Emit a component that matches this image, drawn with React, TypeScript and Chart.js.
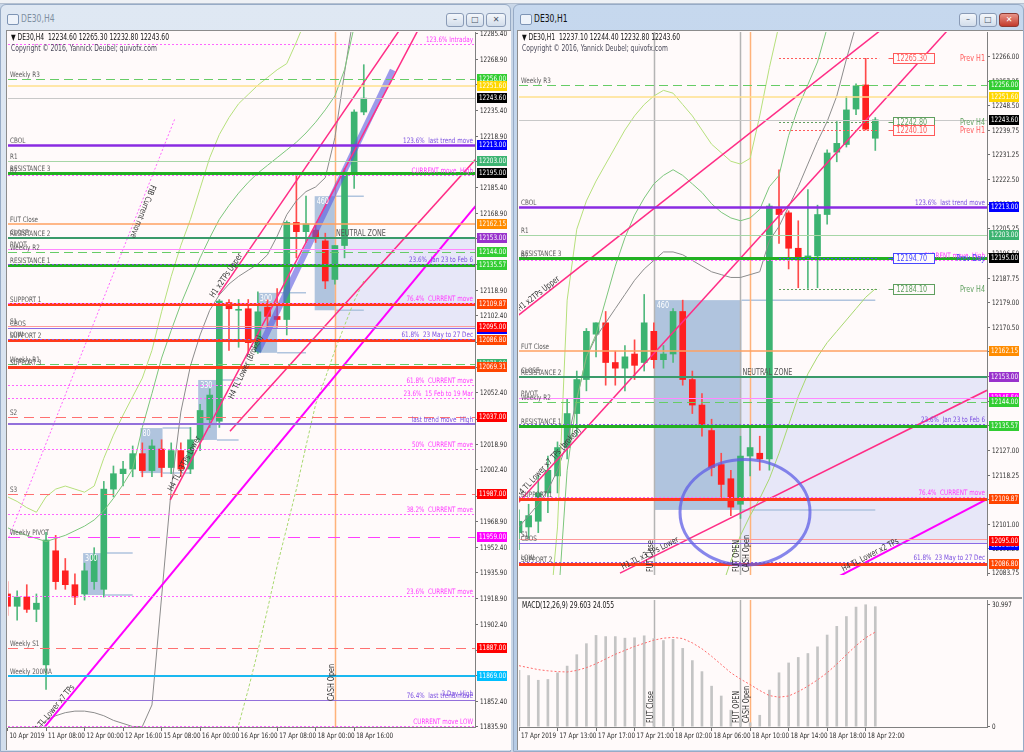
import React, { useEffect, useRef } from "react";
import { Chart, registerables } from "chart.js";

Chart.register(...registerables);

const FONT = "'Liberation Sans Narrow','DejaVu Sans Condensed','Liberation Sans',Arial,sans-serif";
Chart.defaults.font.family = FONT;
const SQ = 0.84; // horizontal squeeze for the narrow MT4 font look

// ================= DE30,H4 (left) =================
const h4AxisLabels = ["10 Apr 2019", "11 Apr 08:00", "12 Apr 00:00", "12 Apr 16:00", "15 Apr 08:00", "16 Apr 00:00", "16 Apr 16:00", "17 Apr 08:00", "18 Apr 00:00", "18 Apr 16:00"];
const h4PriceTicks = ["12285.40", "12268.90", "12252.40", "12235.40", "12218.90", "12202.40", "12185.40", "12168.90", "12152.40", "12135.40", "12118.90", "12102.40", "12085.40", "12068.90", "12052.40", "12035.40", "12018.90", "12002.40", "11985.40", "11968.90", "11952.40", "11935.90", "11918.90", "11902.40", "11885.40", "11868.90", "11852.40", "11835.90"];
const h4Open = [11922, 11914, 11920, 11912, 11876, 11950, 11937, 11928, 11922, 11930, 11925, 11990, 12000, 12003, 12013, 12002, 12016, 12004, 12015, 12003, 12022, 12035, 12034, 12111, 12106, 12107, 12079, 12108, 12102, 12100, 12163, 12157, 12158, 12151, 12126, 12148, 12195, 12234.6];
const h4High = [11930, 11924, 11928, 11922, 11962, 11960, 11945, 11935, 11942, 11952, 11995, 12005, 12008, 12018, 12020, 12022, 12022, 12020, 12020, 12030, 12045, 12055, 12113, 12113, 12113, 12113, 12118, 12113, 12120, 12164, 12195, 12180, 12162, 12156, 12148, 12198, 12236, 12265.3];
const h4Low = [11908, 11905, 11910, 11904, 11860, 11925, 11925, 11915, 11918, 11925, 11920, 11985, 11992, 11998, 11998, 11998, 11998, 12000, 11998, 12000, 12015, 12030, 12030, 12080, 12082, 12078, 12078, 12095, 12095, 12090, 12140, 12150, 12150, 12120, 12123, 12140, 12185, 12232.8];
const h4Close = [11914, 11920, 11912, 11916, 11957, 11930, 11928, 11920, 11937, 11947, 11990, 12000, 12003, 12013, 12002, 12018, 12004, 12015, 12003, 12022, 12041, 12051, 12112, 12107, 12106, 12085, 12105, 12102, 12100, 12163, 12157, 12162, 12153, 12125, 12148, 12195, 12234.6, 12243.6];
const h4Upper = [11985, 11982, 11978, 11975, 11985, 11990, 11992, 11990, 11988, 11992, 12010, 12025, 12038, 12050, 12062, 12080, 12105, 12128, 12148, 12165, 12185, 12205, 12220, 12231, 12240, 12246, 12252, 12257, 12262, 12266, 12280, 12295, null, null, null, null, null, null];
const h4Band2 = [11965, 11962, 11960, 11958, 11956, 11958, 11960, 11963, 11966, 11970, 11976, 11984, 11993, 12003, 12030, 12052, 12075, 12093, 12110, 12125, 12140, 12153, 12165, 12174, 12182, 12189, 12195, 12200, 12205, 12210, 12215, 12221, 12228, 12236, 12245, 12262, 12290, null];
const h4Ma = [null, null, null, 11834, 11840, 11843, 11845, 11846, 11846, 11845, 11843, 11840, 11838, 11836, 11836, 11850, 11920, 11990, 12040, 12070, 12090, 12106, 12116, 12123, 12128, 12132, 12136, 12142, 12154, 12168, 12177, 12183, 12186, 12192, 12218, 12260, 12300, null];
const h4Lower = [null, null, null, null, null, null, null, null, null, null, null, null, null, null, null, null, null, null, null, null, null, null, 11790, 11810, 11837, 11860, 11885, 11912, 11940, 11965, 11990, 12018, 12045, 12062, 12080, 12096, 12112, 12125];

const h4LevelValues = [12278.5, 12256, 12251.6, 12243.6, 12213, 12203, 12195, 12194, 12162.15, 12153, 12153.7, 12145.5, 12144, 12135.57, 12136.3, 12109.87, 12110.6, 12095.6, 12094.4, 12086.8, 12087.5, 12071, 12069.31, 12057.4, 12049.2, 12037, 12032.5, 12016, 11987, 11974, 11959, 11920.7, 11887, 11869, 11853.4, 11854.5, 11836.5];
const h4LevelStyles = ["fibM", "wk", "gold", "bid", "cbol", "r1", "res", "fibM", "fut", "res2", "none", "pivot", "wk", "res", "fibP", "sup", "fibM", "s1", "cbos", "sup", "fibP", "wk", "sup", "fibM", "fibM", "sDash", "trendHigh", "fibM", "sDash", "fibM", "wPivot", "fibM", "sDash", "ma200", "p1", "none", "fibM"];
const h4LevelLeft = ["", "Weekly R3", "", "", "CBOL", "R1", "RESISTANCE 3", "R2", "FUT Close", "RESISTANCE 2", "CLOSE", "PIVOT", "Weekly R2", "RESISTANCE 1", "", "SUPPORT 1", "", "S1", "CBOS", "SUPPORT 2", "LOW", "Weekly R1", "SUPPORT 3", "", "", "S2", "", "", "S3", "", "Weekly PIVOT", "", "Weekly S1", "Weekly 200MA", "", "", ""];
const h4LevelRight = ["123.6% Intraday", "", "", "", "123.6%  last trend move", "", "", "CURRENT move  High", "", "", "", "", "", "", "23.6%  Jan 23 to Feb 6", "", "76.4%  CURRENT move", "", "", "", "61.8%  23 May to 27 Dec", "", "", "61.8%  CURRENT move", "23.6%  15 Feb to 19 Mar", "", "last trend move  High", "50%  CURRENT move", "", "38.2%  CURRENT move", "", "23.6%  CURRENT move", "", "", "76.4%  last trend move", "3 Day High", "CURRENT move LOW"];
const h4AxisBoxValues = [12256, 12251.6, 12243.6, 12213, 12203, 12195, 12162.15, 12153, 12144, 12135.57, 12109.87, 12093.6, 12095, 12086.8, 12071, 12069.31, 12037, 11987, 11959, 11887, 11869];
const h4AxisBoxColors = ["#32cd32", "#ffd700", "#000000", "#0000ff", "#3cb371", "#000000", "#ff8c00", "#9932cc", "#32cd32", "#32cd32", "#ff4500", "#0000ff", "#ff0000", "#ff4500", "#3cb371", "#ff4500", "#ff0000", "#ff0000", "#ff00ff", "#ff0000", "#00bfff"];

const h4BoxLeft = [34, 31.9, 26, 19.8, 13.8, 7.85];
const h4BoxRight = [60, 34, 28, 21.75, 16.1, 10.1];
const h4BoxTop = [12153, 12180, 12117.3, 12060.8, 12029.6, 11948.5];
const h4BoxBottom = [12094, 12106, 12078.4, 12021.9, 12000.4, 11921.3];
const h4BoxText = ["NEUTRAL ZONE", "460", "300", "330", "80", "300"];
const h4BoxExt = [null, 37, 31, 24, 19, 13];

const h4Trends = [
  [21.9, 12116, 42, 12299.5],
  [16.9, 11983, 43.5, 12298],
  [23.1, 12027.6, 48.6, 12203.8],
  [2.34, 11824.3, 48.6, 12173.5],
  [-0.8, 11944, 17.4, 12230.6],
  [26.0, 12079, 40.0, 12261.9],
];
const h4VLineIdx = [34];
const h4VLineText = ["CASH Open"];

// ================= DE30,H1 (right) =================
const h1AxisLabels = ["17 Apr 2019", "17 Apr 13:00", "17 Apr 17:00", "17 Apr 21:00", "18 Apr 02:00", "18 Apr 06:00", "18 Apr 10:00", "18 Apr 14:00", "18 Apr 18:00", "18 Apr 22:00"];
const h1PriceTicks = ["12266.00", "12257.25", "12248.50", "12239.75", "12231.25", "12222.50", "12213.75", "12205.25", "12196.50", "12187.75", "12179.00", "12170.50", "12161.75", "12153.00", "12144.25", "12135.75", "12127.00", "12118.25", "12109.75", "12101.00", "12092.25", "12083.75"];
const h1Open = [12098, 12100, 12102, 12112, 12118, 12128, 12140, 12152, 12168, 12172, 12158, 12156, 12161, 12158, 12169, 12159, 12161, 12176, 12152, 12143, 12134, 12122, 12117, 12108, 12125, 12126, 12124, 12212.2, 12210.8, 12198.3, 12194.6, 12195.6, 12210.2, 12232.2, 12234.9, 12247.4, 12255.9, 12237.1];
const h1High = [12106, 12108, 12118, 12125, 12130, 12145, 12155, 12170, 12172, 12176, 12162, 12164, 12166, 12182, 12172, 12164, 12177, 12180, 12155, 12147, 12138, 12126, 12120, 12132, 12135, 12132, 12214, 12226, 12211.5, 12208, 12219, 12213.5, 12233, 12243, 12251.9, 12256.3, 12265.3, 12244.4];
const h1Low = [12092, 12096, 12098, 12105, 12112, 12124, 12132, 12148, 12160, 12150, 12150, 12148, 12152, 12155, 12156, 12156, 12158, 12150, 12140, 12132, 12118, 12110, 12104, 12103, 12118, 12120, 12120, 12200, 12191, 12184.4, 12184.1, 12184.4, 12206.8, 12228.8, 12234, 12245.4, 12240, 12232.8];
const h1Close = [12102, 12104, 12112, 12120, 12128, 12140, 12152, 12169, 12172, 12158, 12156, 12160, 12157, 12172, 12159, 12161, 12176, 12152, 12143, 12136, 12121, 12115, 12107, 12125, 12128, 12124, 12213.2, 12210.2, 12198.3, 12194.9, 12195.6, 12210.2, 12231.9, 12235.3, 12247.1, 12255.6, 12240.3, 12243.6];
const h1Upper = [null, null, 12040, 12062, 12100, 12180, 12205, 12215, 12222, 12228, 12234, 12240, 12245, 12249, 12252, 12254, 12253, 12249, 12245, 12240, 12235, 12232, 12229, 12228, 12230, 12245, 12262, 12277, 12292, null, null, null, null, null, null, null, null, null];
const h1Band2 = [null, null, null, null, 12070, 12120, 12145, 12160, 12168, 12180, 12192, 12202, 12210, 12216, 12221, 12224, 12226, 12224, 12221, 12218, 12214, 12211, 12209, 12208, 12209, 12212, 12220, 12224, 12238, 12248, 12256, 12264, 12276, null, null, null, null, null];
const h1Ma = [12100, 12104, 12108, 12113, 12120, 12130, 12145, 12160, 12167, 12172, 12177, 12182, 12187, 12191, 12194, 12197, 12197, 12196, 12194, 12192, 12190, 12189, 12188, 12188, 12189, 12190, 12201, 12206, 12213, 12220, 12228, 12236, 12243, 12252, 12265, 12277, null, null];
const h1Lower = [null, null, null, null, null, null, null, null, null, null, null, null, null, null, null, null, null, null, null, null, null, 12078, 12088, 12097, 12104, 12110, 12117, 12126, 12136, 12146, 12154, 12160, 12165, 12169, 12173, 12177, 12181, 12184];

const h1LevelValues = [12256, 12251.6, 12243.6, 12213, 12203, 12195, 12194, 12162.15, 12153, 12153.7, 12145.5, 12144, 12135.57, 12136.3, 12109.87, 12110.6, 12095.6, 12094.4, 12086.8, 12087.5];
const h1LevelStyles = ["wk", "gold", "bid", "cbol", "r1", "res", "fibM", "fut", "res2", "none", "pivot", "wk", "res", "fibP", "sup", "fibM", "s1", "cbos", "sup", "fibP"];
const h1LevelLeft = ["Weekly R3", "", "", "CBOL", "R1", "RESISTANCE 3", "R2", "FUT Close", "RESISTANCE 2", "CLOSE", "PIVOT", "Weekly R2", "RESISTANCE 1", "", "SUPPORT 1", "", "S1", "CBOS", "SUPPORT 2", "LOW"];
const h1LevelRight = ["", "", "", "123.6%  last trend move", "", "", "CURRENT move  High", "", "", "", "", "", "", "23.6%  Jan 23 to Feb 6", "", "76.4%  CURRENT move", "", "", "", "61.8%  23 May to 27 Dec"];
const h1AxisBoxValues = [12256, 12251.6, 12243.6, 12213, 12203, 12195, 12162.15, 12153, 12145.5, 12144, 12135.57, 12109.87, 12093.6, 12095, 12086.8];
const h1AxisBoxColors = ["#32cd32", "#ffd700", "#000000", "#0000ff", "#3cb371", "#000000", "#ff8c00", "#9932cc", "#ff00ff", "#32cd32", "#32cd32", "#ff4500", "#0000ff", "#ff0000", "#ff4500"];

const h1PrevValues = [12265.3, 12242.8, 12240.1, 12194.7, 12184.1];
const h1PrevNames = ["Prev H1", "Prev H4", "Prev H1", "Prev Day", "Prev H4"];
const h1PrevFrom = [27, 27, 27, 27, 27];

const h1BoxLeft = [23.1, 14.1];
const h1BoxRight = [60, 23.1];
const h1BoxTop = [12153, 12180];
const h1BoxBottom = [12094, 12106];
const h1BoxText = ["NEUTRAL ZONE", "460"];
const h1BoxExt = [null, 37];

const h1Trends = [
  [-1, 12172.2, 38, 12276.4],
  [-0.5, 12107, 45, 12277],
  [10.49, 12083.7, 48.6, 12148.2],
  [33.3, 12082.7, 48.6, 12109.8],
];
const h1Ellipse = [23.47, 12105.2, 6.75, 18.6];
const h1VLineIdx = [14, 23, 24];
const h1VLineText = ["FUT Close", "FUT OPEN", "CASH Open"];

// MACD(12,26,9)
const macdHist = [14.3, 13.0, 11.8, 12.0, 13.7, 15.4, 18.3, 21.1, 23.2, 22.9, 22.9, 22.5, 22.6, 23.1, 22.4, 21.9, 22.2, 19.9, 16.8, 14.0, 10.3, 7.8, 4.2, 2.5, 1.0, 2.9, 9.3, 13.7, 16.2, 17.6, 18.6, 20.3, 23.3, 25.5, 28.0, 30.4, 30.997, 30.5];
const macdSignal = [15.5, 15.0, 14.5, 14.2, 14.0, 13.9, 14.3, 15.0, 16.0, 17.2, 18.4, 19.4, 20.4, 21.2, 22.0, 22.5, 22.7, 22.4, 21.3, 19.8, 17.9, 15.8, 13.7, 12.1, 10.7, 9.2, 7.9, 7.5, 7.8, 8.9, 10.3, 11.9, 13.7, 15.9, 18.3, 20.6, 22.6, 24.055];
const macdTicks = ["30.997", "0"];

// ================= styles =================
const LS: Record<string, { c: string; w: number; d: number[] }> = {
  fibM: { c: "#ff66ff", w: 1, d: [2, 2] },
  fibP: { c: "#8a5ce6", w: 1, d: [2, 2] },
  wk: { c: "#66cc66", w: 1, d: [9, 5] },
  gold: { c: "#ffe08c", w: 1.5, d: [] },
  bid: { c: "#c8c8c8", w: 1, d: [] },
  cbol: { c: "#8a2be2", w: 2.5, d: [] },
  r1: { c: "#a6d6a6", w: 1, d: [] },
  res: { c: "#22b022", w: 3, d: [] },
  res2: { c: "#3a9a6a", w: 2, d: [] },
  fut: { c: "#ffa060", w: 1.5, d: [] },
  pivot: { c: "#ff88ff", w: 1, d: [] },
  sup: { c: "#ff3a1a", w: 3, d: [] },
  s1: { c: "#ff9a9a", w: 1, d: [] },
  cbos: { c: "#8a6ae6", w: 1, d: [] },
  sDash: { c: "#ff7070", w: 1, d: [10, 6] },
  wPivot: { c: "#ff40ff", w: 1, d: [12, 8] },
  trendHigh: { c: "#9370db", w: 2, d: [] },
  p1: { c: "#9370db", w: 1, d: [] },
  ma200: { c: "#1ab8f0", w: 2, d: [] },
  none: { c: "rgba(0,0,0,0)", w: 0, d: [] },
};
const BULL = "#3cb371";
const BEAR = "#ff2020";
const WICK_BULL = "#52b97e";
const WICK_BEAR = "#ff4a4a";
const PINK = "#ff2d86";
const MAGENTA = "#ff00ff";
const LSB = "#b0c4de";
const LAV = "#e7e7f8";

function txt(ctx: any, s: string, x: number, y: number, color: string, align = "left", base = "alphabetic", size = 7) {
  ctx.save();
  ctx.font = `${size}px ${FONT}`;
  ctx.fillStyle = color;
  ctx.textAlign = align;
  ctx.textBaseline = base;
  ctx.translate(x, y);
  ctx.scale(SQ, 1);
  ctx.fillText(s, 0, 0);
  ctx.restore();
}

function overlay(spec: any) {
  return {
    id: "mt4overlay",
    beforeDatasetsDraw(chart: any) {
      const { ctx, chartArea: a } = chart;
      const xs = chart.scales.x, ys = chart.scales.y;
      ctx.save();
      ctx.beginPath();
      ctx.rect(a.left, a.top, a.right - a.left, a.bottom - a.top);
      ctx.clip();
      (spec.rects || []).forEach((r: any) => {
        const x0 = xs.getPixelForValue(r.x0), x1 = xs.getPixelForValue(r.x1);
        const y0 = ys.getPixelForValue(r.top), y1 = ys.getPixelForValue(r.bottom);
        ctx.fillStyle = r.fill;
        ctx.fillRect(x0, y0, x1 - x0, y1 - y0);
        if (r.ext != null) {
          const xe = xs.getPixelForValue(r.ext);
          ctx.strokeStyle = LSB;
          ctx.lineWidth = 1.5;
          ctx.setLineDash([]);
          ctx.beginPath();
          ctx.moveTo(x1, y0); ctx.lineTo(xe, y0);
          ctx.moveTo(x1, y1); ctx.lineTo(xe, y1);
          ctx.stroke();
        }
      });
      (spec.vlines || []).forEach((v: any) => {
        const px = Math.round(xs.getPixelForValue(v.i)) + 0.5;
        ctx.strokeStyle = v.color;
        ctx.lineWidth = 1.5;
        ctx.setLineDash([]);
        ctx.beginPath();
        ctx.moveTo(px, a.top); ctx.lineTo(px, a.bottom);
        ctx.stroke();
      });
      ctx.restore();
    },
    afterDatasetsDraw(chart: any) {
      const { ctx, chartArea: a } = chart;
      const xs = chart.scales.x, ys = chart.scales.y;
      ctx.save();
      ctx.beginPath();
      ctx.rect(a.left, a.top, a.right - a.left, a.bottom - a.top);
      ctx.clip();
      (spec.levels || []).forEach((l: any) => {
        if (l.st.w <= 0) return;
        const py = Math.round(ys.getPixelForValue(l.v)) + (Math.round(l.st.w) % 2 === 1 ? 0.5 : 0);
        ctx.strokeStyle = l.st.c;
        ctx.lineWidth = l.st.w;
        ctx.setLineDash(l.st.d);
        ctx.beginPath();
        ctx.moveTo(a.left, py); ctx.lineTo(a.right, py);
        ctx.stroke();
      });
      ctx.setLineDash([]);
      (spec.levels || []).forEach((l: any) => {
        const py = ys.getPixelForValue(l.v);
        if (l.left) txt(ctx, l.left, a.left + 2, py - 2, "#5a5a5a", "left", "alphabetic", 7.5);
        if (l.right) txt(ctx, l.right, a.right - 2, py - 2, l.key === "fibM" ? "#ff3cff" : "#7a4ee0", "right", "alphabetic", 7.5);
      });
      (spec.rects || []).forEach((r: any) => {
        const x0 = xs.getPixelForValue(r.x0), y0 = ys.getPixelForValue(r.top);
        if (r.text === "NEUTRAL ZONE") txt(ctx, r.text, x0 + 1, y0 - 2, "#555", "left", "alphabetic", 8.5);
        else txt(ctx, r.text, x0 + 2, y0 + 8, "#ffffff", "left", "alphabetic", 8.5);
      });
      (spec.prevs || []).forEach((p: any) => {
        const py = Math.round(ys.getPixelForValue(p.v)) + 0.5;
        const xa = xs.getPixelForValue(p.from), xb = xs.getPixelForValue(37.4);
        const bx = Math.round(xs.getPixelForValue(38.8)) + 0.5;
        ctx.strokeStyle = p.color;
        ctx.lineWidth = 1;
        ctx.setLineDash([2, 2]);
        ctx.beginPath(); ctx.moveTo(xa, py); ctx.lineTo(xb, py); ctx.stroke();
        ctx.setLineDash([]);
        ctx.beginPath(); ctx.moveTo(bx - 5, py); ctx.lineTo(bx, py); ctx.stroke();
        ctx.fillStyle = "#fffafa";
        ctx.fillRect(bx, py - 5, 41, 10);
        ctx.strokeRect(bx, py - 5, 41, 10);
        txt(ctx, p.v.toFixed(2), bx + 3, py + 0.5, p.color, "left", "middle", 8.5);
        txt(ctx, p.name, a.right - 2, py + 0.5, p.color, "right", "middle", 8.5);
      });
      (spec.lineTexts || []).forEach((t: any) => {
        const p = t.pts;
        const x0 = xs.getPixelForValue(p[0]), y0 = ys.getPixelForValue(p[1]);
        const x1 = xs.getPixelForValue(p[2]), y1 = ys.getPixelForValue(p[3]);
        const f = (t.at - p[0]) / (p[2] - p[0]);
        const px = x0 + f * (x1 - x0), py = y0 + f * (y1 - y0);
        let ang = Math.atan2(y1 - y0, x1 - x0);
        if (t.flip) ang += Math.PI;
        ctx.save();
        ctx.translate(px, py);
        ctx.rotate(ang);
        txt(ctx, t.text, 0, -2, t.color || "#3a3a3a", "left", "alphabetic", 8.5);
        ctx.restore();
      });
      if (spec.ellipse) {
        const e = spec.ellipse;
        const cx = xs.getPixelForValue(e[0]), cy = ys.getPixelForValue(e[1]);
        const rx = Math.abs(xs.getPixelForValue(e[0] + e[2]) - cx);
        const ry = Math.abs(ys.getPixelForValue(e[1] + e[3]) - cy);
        ctx.strokeStyle = "rgba(95,95,230,0.75)";
        ctx.lineWidth = 3;
        ctx.beginPath(); ctx.ellipse(cx, cy, rx, ry, 0, 0, Math.PI * 2); ctx.stroke();
      }
      (spec.vlines || []).forEach((v: any) => {
        if (!v.text) return;
        const px = Math.round(xs.getPixelForValue(v.i));
        ctx.save();
        ctx.translate(px - 1, a.bottom - v.off);
        ctx.rotate(-Math.PI / 2);
        txt(ctx, v.text, 0, 0, "#333", "left", "alphabetic", 8.5);
        ctx.restore();
      });
      (spec.header || []).forEach((h: string, k: number) => {
        txt(ctx, h, a.left + 3, a.top + 8 + k * 11, k === 0 ? "#111" : "#4a4a5a", "left", "alphabetic", 8);
      });
      ctx.restore();
    },
    afterDraw(chart: any) {
      const { ctx, chartArea: a } = chart;
      const xs = chart.scales.x, ys = chart.scales.y;
      // price-axis tick labels
      (spec.yTicks || []).forEach((t: string) => {
        const py = ys.getPixelForValue(parseFloat(t));
        txt(ctx, t, a.right + 5, py + 0.5, "#2a2a2a", "left", "middle", 7.5);
      });
      // time-axis tick labels
      (spec.xTicks || []).forEach((t: string, k: number) => {
        const px = xs.getPixelForValue(k * 4);
        txt(ctx, t, px + 2, a.bottom + 9.5, "#2a2a2a", "left", "middle", 7.5);
      });
      (spec.axisBoxes || []).forEach((b: any) => {
        const py = Math.round(ys.getPixelForValue(b.v));
        const bx = a.right + 2;
        ctx.fillStyle = b.bg;
        ctx.fillRect(bx, py - 5, 30, 10);
        txt(ctx, b.v.toFixed(2), bx + 2, py + 0.5, "#ffffff", "left", "middle", 7.5);
      });
    },
  };
}

function xScale(xMin: number, xMax: number, labels: string[] | null) {
  return {
    type: "linear",
    min: xMin,
    max: xMax,
    offset: false,
    display: !!labels,
    position: "bottom",
    grid: { display: true, drawOnChartArea: false, drawTicks: true, tickLength: 4, tickColor: "#707070", offset: false },
    border: { display: true, color: "#808080" },
    ticks: { display: false, autoSkip: false, maxRotation: 0, minRotation: 0 },
    afterBuildTicks: (s: any) => { s.ticks = (labels || []).map((_l, k) => ({ value: k * 4 })); },
    afterFit: (s: any) => { s.height = 22; },
  };
}

function yScale(yMin: number, yMax: number, tickLabels: string[]) {
  return {
    type: "linear",
    position: "right",
    min: yMin,
    max: yMax,
    beginAtZero: false,
    grid: { display: true, drawOnChartArea: false, drawTicks: true, tickLength: 3, tickColor: "#707070" },
    border: { display: true, color: "#808080" },
    ticks: { display: false, autoSkip: false },
    afterBuildTicks: (s: any) => { s.ticks = tickLabels.map((t) => ({ value: parseFloat(t) })); },
    afterFit: (s: any) => { s.width = 35; },
  };
}

function levelsFrom(values: number[], styles: string[], lefts: string[], rights: string[]) {
  return values.map((v, k) => ({ v, st: LS[styles[k]], key: styles[k], left: lefts[k], right: rights[k] }));
}
function boxesFrom(values: number[], colors: string[]) {
  return values.map((v, k) => ({ v, bg: colors[k] }));
}
function rectsFrom(l: number[], r: number[], t: number[], b: number[], text: string[], ext: (number | null)[]) {
  return l.map((x0, k) => ({ x0, x1: r[k], top: t[k], bottom: b[k], text: text[k], ext: ext[k], fill: text[k] === "NEUTRAL ZONE" ? LAV : LSB }));
}

function candleConfig(o: any) {
  const datasets: any[] = [];
  o.trends.forEach((t: any) => datasets.push({
    type: "line", data: [{ x: t.p[0], y: t.p[1] }, { x: t.p[2], y: t.p[3] }],
    borderColor: t.color, borderWidth: t.width, borderDash: t.dash || [], pointRadius: 0,
  }));
  o.bands.forEach((b: any) => datasets.push({
    type: "line", data: b.data.map((v: any, i: number) => ({ x: i, y: v })),
    borderColor: b.color, borderWidth: 1, borderDash: b.dash || [], pointRadius: 0, spanGaps: false,
  }));
  const idx = o.open.map((_: any, i: number) => i);
  const up = o.close.map((c: number, i: number) => c >= o.open[i]);
  datasets.push({
    type: "bar", data: idx.map((i: number) => ({ x: i, y: [o.open[i], o.close[i]] })),
    backgroundColor: up.map((u: boolean) => (u ? BULL : BEAR)), barThickness: 6, minBarLength: 1, grouped: false, borderWidth: 0,
  });
  datasets.push({
    type: "bar", data: idx.map((i: number) => ({ x: i, y: [o.low[i], o.high[i]] })),
    backgroundColor: up.map((u: boolean) => (u ? WICK_BULL : WICK_BEAR)), barThickness: 1, grouped: false, borderWidth: 0,
  });
  return {
    type: "bar",
    data: { datasets },
    options: {
      responsive: false, animation: false, events: [], devicePixelRatio: 1,
      layout: { padding: o.padding },
      plugins: { legend: { display: false }, tooltip: { enabled: false } },
      scales: { x: xScale(o.xMin, o.xMax, o.xLabels), y: yScale(o.yMin, o.yMax, o.yTicks) },
    },
    plugins: [overlay({ ...o.spec, yTicks: o.yTicks, xTicks: o.xLabels })],
  };
}

function h4Config() {
  const t = h4Trends;
  return candleConfig({
    open: h4Open, high: h4High, low: h4Low, close: h4Close,
    xMin: 0.05, xMax: 48.55, yMin: 11835.7, yMax: 12286.5,
    xLabels: h4AxisLabels, yTicks: h4PriceTicks,
    padding: { left: 1, top: 1, right: 0, bottom: 0 },
    trends: [
      { p: t[0], color: PINK, width: 1.5 },
      { p: t[1], color: PINK, width: 1.5 },
      { p: t[2], color: PINK, width: 1.5 },
      { p: t[3], color: MAGENTA, width: 2 },
      { p: t[4], color: "#ff66ff", width: 1, dash: [2, 2] },
      { p: t[5], color: "rgba(90,90,225,0.6)", width: 6 },
    ],
    bands: [
      { data: h4Upper, color: "#b6e07c" },
      { data: h4Band2, color: "#7cc67c" },
      { data: h4Ma, color: "#8c8c8c" },
      { data: h4Lower, color: "#a8d870", dash: [3, 2] },
    ],
    spec: {
      levels: levelsFrom(h4LevelValues, h4LevelStyles, h4LevelLeft, h4LevelRight),
      axisBoxes: boxesFrom(h4AxisBoxValues, h4AxisBoxColors),
      rects: rectsFrom(h4BoxLeft, h4BoxRight, h4BoxTop, h4BoxBottom, h4BoxText, h4BoxExt),
      vlines: h4VLineIdx.map((i, k) => ({ i, color: "#ffb27a", text: h4VLineText[k], off: 26 })),
      lineTexts: [
        { pts: t[0], at: 21.6, text: "H1 x2TPs Upper" },
        { pts: t[1], at: 17.3, text: "H4 TL x3TPs Lower" },
        { pts: t[3], at: 3.0, text: "H4 TL Lower x7 TPs" },
        { pts: t[4], at: 14.7, text: "FIB Current move", flip: true },
        { pts: t[5], at: 23.6, text: "H4 TL Lower (Broken)" },
      ],
      header: ["\u25BC DE30,H4  12234.60 12265.30 12232.80 12243.60", "Copyright \u00A9 2016, Yannick Deubel; quivofx.com"],
    },
  });
}

function h1Config() {
  const t = h1Trends;
  return candleConfig({
    open: h1Open, high: h1High, low: h1Low, close: h1Close,
    xMin: 0, xMax: 48.6, yMin: 12083.05, yMax: 12274.58,
    xLabels: null, yTicks: h1PriceTicks,
    padding: { left: 1, top: 1, right: 0, bottom: 0 },
    trends: [
      { p: t[0], color: PINK, width: 1.5 },
      { p: t[1], color: PINK, width: 1.5 },
      { p: t[2], color: PINK, width: 1.5 },
      { p: t[3], color: MAGENTA, width: 2 },
    ],
    bands: [
      { data: h1Upper, color: "#b6e07c" },
      { data: h1Band2, color: "#7cc67c" },
      { data: h1Ma, color: "#8c8c8c" },
      { data: h1Lower, color: "#a8d870" },
    ],
    spec: {
      levels: levelsFrom(h1LevelValues, h1LevelStyles, h1LevelLeft, h1LevelRight),
      axisBoxes: boxesFrom(h1AxisBoxValues, h1AxisBoxColors),
      rects: rectsFrom(h1BoxLeft, h1BoxRight, h1BoxTop, h1BoxBottom, h1BoxText, h1BoxExt),
      vlines: h1VLineIdx.map((i, k) => ({ i, color: k === 2 ? "#ffb27a" : "#b4b4b4", text: h1VLineText[k], off: 3 })),
      prevs: h1PrevValues.map((v, k) => ({
        v, name: h1PrevNames[k], from: h1PrevFrom[k],
        color: h1PrevNames[k] === "Prev H1" ? "#ff5a5a" : h1PrevNames[k] === "Prev Day" ? "#4848ff" : "#5f9f5f",
      })),
      lineTexts: [
        { pts: t[0], at: 0.2, text: "H1 x2TPs Upper" },
        { pts: t[1], at: 0.2, text: "H4 TL Lower x7 TPs (broken)" },
        { pts: t[2], at: 10.9, text: "H1 TL x3 TPs Lower" },
        { pts: t[3], at: 33.8, text: "H4 TL Lower x2 TPs" },
      ],
      ellipse: h1Ellipse,
      header: ["\u25BC DE30,H1  12237.10 12244.40 12232.80 12243.60", "Copyright \u00A9 2016, Yannick Deubel; quivofx.com"],
    },
  });
}

function macdConfig() {
  const idx = macdHist.map((_, i) => i);
  return {
    type: "bar",
    data: {
      datasets: [
        {
          type: "line", data: idx.map((i) => ({ x: i, y: macdSignal[i] })),
          borderColor: "#ff6a6a", borderWidth: 1, borderDash: [2, 2], pointRadius: 0,
        },
        {
          type: "bar", data: idx.map((i) => ({ x: i, y: macdHist[i] })),
          backgroundColor: "#c4c4c4", barThickness: 2, grouped: false, borderWidth: 0,
        },
      ],
    },
    options: {
      responsive: false, animation: false, events: [], devicePixelRatio: 1,
      layout: { padding: { left: 1, top: 1, right: 0, bottom: 0 } },
      plugins: { legend: { display: false }, tooltip: { enabled: false } },
      scales: { x: xScale(0, 48.6, h1AxisLabels), y: yScale(-0.08, 32.2, macdTicks) },
    },
    plugins: [overlay({
      vlines: h1VLineIdx.map((i, k) => ({ i, color: k === 2 ? "#ffb27a" : "#b4b4b4", text: h1VLineText[k], off: 4 })),
      header: ["MACD(12,26,9) 29.603 24.055"],
      yTicks: macdTicks,
      xTicks: h1AxisLabels,
    })],
  };
}

function ChartCanvas({ build, left, top, width, height }: any) {
  const ref = useRef<HTMLCanvasElement>(null);
  useEffect(() => {
    const chart = new Chart(ref.current as any, build() as any);
    return () => chart.destroy();
  }, []);
  return (
    <canvas ref={ref} width={width} height={height}
      style={{ position: "absolute", left, top, width, height, background: "#fffafa", display: "block" }} />
  );
}

function Win({ left, width, title, active }: any) {
  const btn = (x: number, w: number, red: boolean, glyph: string) => (
    <div style={{
      position: "absolute", left: x, top: 8, width: w, height: 14, borderRadius: 3, boxSizing: "border-box",
      border: `1px solid ${red ? "#8c3a33" : "#8a9bb6"}`,
      background: red ? "linear-gradient(#e89488,#c33a2c)" : "linear-gradient(#f4f7fb,#d2ddeb)",
      color: red ? "#fff" : "#4a5566", fontSize: 8, lineHeight: "12px", textAlign: "center", fontFamily: "DejaVu Sans",
    }}>{glyph}</div>
  );
  return (
    <div style={{
      position: "absolute", left, top: 4, width, height: 748, boxSizing: "border-box",
      border: "1px solid #97abc6", borderRadius: "6px 6px 0 0",
      background: active ? "linear-gradient(#c6d8ee,#b6cbe5)" : "linear-gradient(#dfe8f3,#d2deec)",
    }}>
      <div style={{ position: "absolute", left: 6, top: 9, width: 10, height: 9, border: "1px solid #7d94b5", borderRadius: 2, background: "#eef3fa" }} />
      <div style={{ position: "absolute", left: 20, top: 8, fontSize: 10, fontFamily: FONT, color: active ? "#111" : "#8090a2", transform: "scaleX(0.85)", transformOrigin: "left center" }}>{title}</div>
      {btn(width - 66, 18, false, "\u2013")}
      {btn(width - 46, 18, false, "\u25A1")}
      {btn(width - 26, 20, active, "\u2715")}
    </div>
  );
}

export default function App() {
  return (
    <div style={{ position: "fixed", left: 0, top: 0, width: 1024, height: 752, overflow: "hidden", background: "#c8d6e7" }}>
      <div style={{ position: "absolute", left: 0, top: 0, width: 1024, height: 3, background: "#eef1f5", borderBottom: "1px solid #b4c0d0" }} />
      <Win left={0} width={511} title="DE30,H4" active={false} />
      <Win left={513} width={511} title="DE30,H1" active={true} />
      <div style={{ position: "absolute", left: 6, top: 30, width: 505, height: 720, boxSizing: "border-box", borderLeft: "1px solid #8c8c8c", borderTop: "1px solid #8c8c8c", background: "#fffafa" }} />
      <ChartCanvas build={h4Config} left={7} top={31} width={503} height={718} />
      <div style={{ position: "absolute", left: 517, top: 30, width: 506, height: 720, boxSizing: "border-box", borderLeft: "1px solid #8c8c8c", borderTop: "1px solid #8c8c8c", background: "#fffafa" }} />
      <ChartCanvas build={h1Config} left={518} top={31} width={504} height={566} />
      <div style={{ position: "absolute", left: 518, top: 597, width: 504, height: 2, background: "#9a9a9a" }} />
      <ChartCanvas build={macdConfig} left={518} top={599} width={504} height={150} />
    </div>
  );
}
